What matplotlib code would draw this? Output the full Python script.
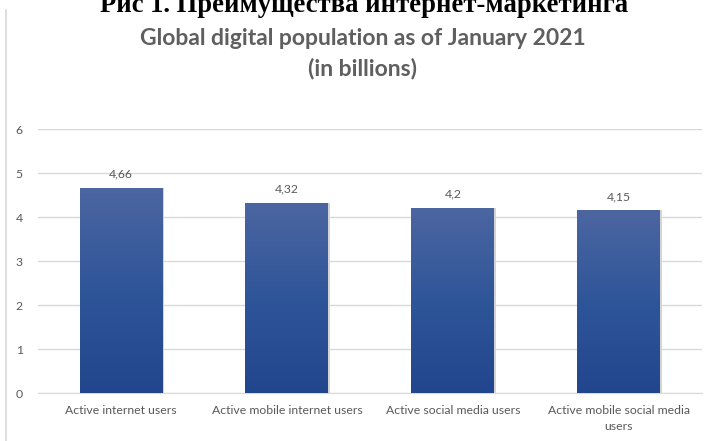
import matplotlib
matplotlib.use("Agg")
import matplotlib.pyplot as plt
import numpy as np
from matplotlib.colors import LinearSegmentedColormap
from matplotlib.lines import Line2D

categories = ["Active internet users", "Active mobile internet users",
              "Active social media users", "Active mobile social media\nusers"]
values = [4.66, 4.32, 4.2, 4.15]
value_labels = ["4,66", "4,32", "4,2", "4,15"]
yticks = [0, 1, 2, 3, 4, 5, 6]

fig = plt.figure(figsize=(7.06, 4.41), dpi=100)
fig.patch.set_facecolor("white")
ax = fig.add_axes([38/706, 1-393/441, 664/706, (393-129)/441])

x = np.arange(len(categories))
bars = ax.bar(x, values, width=0.5, color="#2f5296", zorder=2)

cmap = LinearSegmentedColormap.from_list("g", ["#4c66a1", "#2f5599", "#22468d"])
grad = np.linspace(0, 1, 256).reshape(-1, 1)
for b in bars:
    x0, y0 = b.get_x(), b.get_y()
    w, h = b.get_width(), b.get_height()
    ax.bar(x0 + w/2 + 0.012, h, width=w, bottom=y0, color="#d4d4d4", zorder=1.5)
    im = ax.imshow(grad, cmap=cmap, aspect="auto",
                   extent=[x0, x0 + w, y0, y0 + h], zorder=3, origin="upper")
    im.set_clip_path(b)

for xi, v, lab in zip(x, values, value_labels):
    ax.annotate(lab, (xi, v), xytext=(0, 6), textcoords="offset points",
                ha="center", va="bottom", fontsize=8.8, color="#595959",
                family="Lato")

ax.set_xlim(-0.5, len(categories) - 0.5)
ax.set_ylim(0, 6)
ax.set_yticks(yticks)
ax.set_yticklabels([str(t) for t in yticks], fontsize=8.8, color="#595959", family="Lato")
ax.set_xticks(x)
ax.set_xticklabels(categories, fontsize=8.8, color="#595959", family="Lato",
                   linespacing=1.5)
ax.tick_params(axis="both", length=0)
ax.tick_params(axis="y", pad=11)
ax.tick_params(axis="x", pad=9)
ax.yaxis.grid(True, color="#d9d9d9", linewidth=1, zorder=0)
ax.set_axisbelow(True)
for s in ["top", "right", "left"]:
    ax.spines[s].set_visible(False)
ax.spines["bottom"].set_color("#d9d9d9")
ax.spines["bottom"].set_zorder(0)

fig.text(363/706, 1 - 54/441, "Global digital population as of January 2021\n(in billions)",
         ha="center", va="center", fontsize=16.5, color="#5f5f5f",
         family="Lato", fontweight="bold", linespacing=1.5)

fig.text(364/706, 1 - 11.5/441, "Рис 1. Преимущества интернет-маркетинга",
         ha="center", va="baseline", fontsize=19.2, color="black",
         family="Liberation Serif", fontweight="bold")

fig.add_artist(Line2D([6/706, 6/706], [0, 1 - 10/441], transform=fig.transFigure,
                      color="#d9d9d9", linewidth=1.2))

fig.savefig("out.png", dpi=100)
